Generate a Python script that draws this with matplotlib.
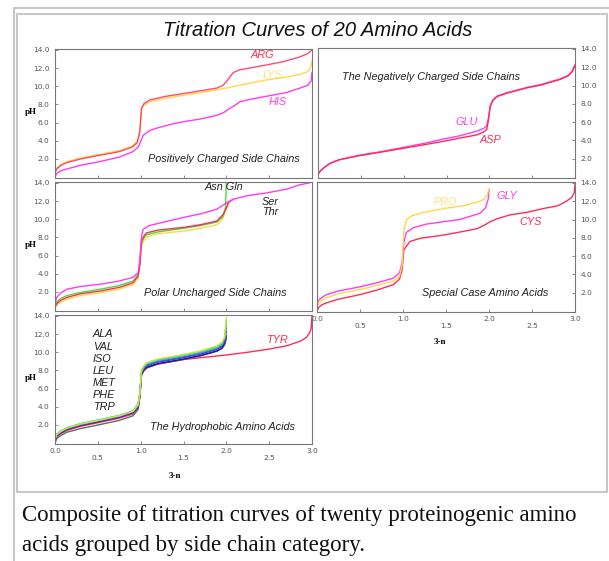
import matplotlib
matplotlib.use("Agg")
from matplotlib import pyplot as plt
from matplotlib.lines import Line2D
from matplotlib.patches import Rectangle

# --- data (x = equivalents of base "3-n", y = pH) ---

# positively charged side chains
x_arg = [0, 0.02, 0.07, 0.14, 0.3, 0.52, 0.75, 0.9, 0.96, 0.99, 1.01, 1.04, 1.11, 1.3, 1.5, 1.7, 1.89, 1.96, 2.0, 2.04, 2.08, 2.15, 2.27, 2.5, 2.66, 2.85, 2.95, 3.0]
ph_arg = [0.5, 0.9, 1.3, 1.6, 2.0, 2.4, 2.8, 3.3, 3.8, 5.0, 7.6, 8.1, 8.5, 8.9, 9.2, 9.5, 9.8, 10.1, 10.5, 11.0, 11.5, 11.8, 12.0, 12.4, 12.7, 13.2, 13.6, 14.0]
x_lys = [0, 0.02, 0.07, 0.14, 0.3, 0.52, 0.75, 0.9, 0.96, 0.99, 1.01, 1.04, 1.11, 1.3, 1.5, 1.7, 1.89, 2.0, 2.2, 2.47, 2.7, 2.86, 2.95, 2.99, 3.0]
ph_lys = [0.6, 1.0, 1.4, 1.7, 2.1, 2.5, 2.9, 3.4, 3.9, 5.0, 7.5, 7.9, 8.3, 8.7, 9.0, 9.3, 9.6, 9.8, 10.2, 10.7, 11.0, 11.3, 11.6, 12.2, 12.8]
x_his = [0, 0.02, 0.07, 0.14, 0.3, 0.52, 0.75, 0.91, 0.97, 1.0, 1.03, 1.1, 1.19, 1.35, 1.5, 1.7, 1.89, 1.97, 2.03, 2.1, 2.16, 2.3, 2.47, 2.7, 2.86, 2.95, 2.99, 3.0]
ph_his = [0.0, 0.4, 0.7, 0.9, 1.3, 1.7, 2.2, 2.8, 3.3, 3.9, 4.6, 5.1, 5.4, 5.8, 6.1, 6.4, 6.8, 7.1, 7.5, 7.9, 8.3, 8.6, 8.9, 9.3, 9.8, 10.1, 10.6, 11.5]

# negatively charged side chains
x_acid = [0, 0.03, 0.08, 0.14, 0.25, 0.49, 0.75, 1.0, 1.25, 1.46, 1.65, 1.85, 1.93, 1.97, 1.99, 2.01, 2.04, 2.09, 2.2, 2.44, 2.6, 2.82, 2.92, 2.97, 3.0]
ph_glu = [0.3, 0.7, 1.1, 1.5, 1.9, 2.4, 2.8, 3.25, 3.7, 4.15, 4.5, 5.0, 5.3, 5.6, 6.5, 7.8, 8.4, 8.85, 9.2, 9.8, 10.1, 10.7, 11.1, 11.6, 12.3]
ph_asp = [0.3, 0.7, 1.1, 1.5, 1.9, 2.35, 2.75, 3.15, 3.55, 3.9, 4.25, 4.6, 4.9, 5.2, 6.2, 7.7, 8.35, 8.8, 9.15, 9.75, 10.05, 10.65, 11.05, 11.55, 12.2]

# polar uncharged side chains
x_ser = [0, 0.02, 0.07, 0.14, 0.3, 0.53, 0.75, 0.91, 0.97, 0.99, 1.01, 1.03, 1.1, 1.23, 1.5, 1.7, 1.89, 2.0, 2.08, 2.25, 2.47, 2.7, 2.86, 2.97]
ph_ser = [0.7, 1.4, 1.9, 2.3, 2.6, 2.85, 3.2, 3.6, 4.1, 5.5, 8.15, 8.9, 9.3, 9.6, 10.2, 10.6, 11.1, 11.8, 12.2, 12.6, 12.9, 13.3, 13.8, 14.0]
x_thr = [0, 0.02, 0.07, 0.14, 0.3, 0.53, 0.75, 0.91, 0.97, 0.99, 1.01, 1.04, 1.07, 1.2, 1.5, 1.7, 1.89, 1.96, 2.0, 2.02, 2.05, 2.08]
ph_thr = [0.3, 0.7, 1.1, 1.4, 1.8, 2.1, 2.5, 3.0, 3.75, 5.0, 7.6, 8.2, 8.5, 8.8, 9.1, 9.4, 9.8, 10.5, 11.2, 11.8, 12.0, 12.2]
x_asn = [0, 0.02, 0.07, 0.14, 0.3, 0.53, 0.75, 0.91, 0.97, 0.99, 1.01, 1.04, 1.07, 1.2, 1.5, 1.7, 1.89, 1.96, 1.99, 2.0]
ph_asn = [0.5, 0.9, 1.3, 1.6, 1.95, 2.3, 2.7, 3.2, 3.9, 5.2, 7.4, 8.0, 8.3, 8.6, 9.0, 9.3, 9.7, 10.3, 11.3, 14.0]
x_gln = [0, 0.02, 0.07, 0.14, 0.3, 0.53, 0.75, 0.91, 0.97, 0.99, 1.01, 1.04, 1.08, 1.2, 1.5, 1.7, 1.89, 1.96, 2.0, 2.03]
ph_gln = [0.2, 0.5, 0.9, 1.2, 1.6, 1.9, 2.3, 2.8, 3.5, 4.8, 7.0, 7.7, 8.1, 8.4, 8.7, 9.0, 9.4, 10.1, 11.2, 11.7]

# special cases
x_pro = [0, 0.02, 0.06, 0.11, 0.25, 0.5, 0.7, 0.89, 0.96, 0.99, 1.01, 1.04, 1.1, 1.2, 1.47, 1.7, 1.86, 1.94, 1.98, 2.0]
ph_pro = [0.5, 0.9, 1.2, 1.45, 1.9, 2.35, 2.8, 3.3, 3.8, 5.0, 8.8, 10.0, 10.4, 10.7, 11.2, 11.5, 11.9, 12.2, 12.7, 13.4]
x_gly = [0, 0.02, 0.06, 0.11, 0.25, 0.5, 0.7, 0.89, 0.96, 0.99, 1.01, 1.04, 1.12, 1.27, 1.5, 1.66, 1.9, 1.96, 1.99, 2.0]
ph_gly = [0.9, 1.2, 1.5, 1.8, 2.2, 2.65, 3.1, 3.6, 4.2, 5.3, 7.5, 8.6, 9.1, 9.5, 9.8, 10.0, 10.7, 11.3, 12.2, 13.2]
x_cys = [0, 0.02, 0.06, 0.11, 0.25, 0.5, 0.7, 0.89, 0.96, 0.99, 1.01, 1.08, 1.2, 1.47, 1.7, 1.86, 1.95, 2.01, 2.1, 2.24, 2.45, 2.63, 2.8, 2.9, 2.96, 2.99, 3.0]
ph_cys = [0.0, 0.4, 0.7, 0.9, 1.3, 1.8, 2.3, 2.9, 3.5, 4.5, 6.7, 7.6, 7.95, 8.3, 8.7, 9.0, 9.4, 9.75, 10.1, 10.5, 10.8, 11.2, 11.5, 12.0, 12.4, 12.9, 13.8]

# hydrophobic
x_hyd = [0, 0.02, 0.07, 0.14, 0.3, 0.53, 0.75, 0.91, 0.97, 0.99, 1.01, 1.04, 1.07, 1.2, 1.5, 1.7, 1.89, 1.95, 1.98, 2.0]
ph_ala = [0.4, 0.95, 1.3, 1.65, 2.1, 2.55, 3.0, 3.5, 4.2, 5.4, 8.0, 8.5, 8.8, 9.2, 9.7, 10.1, 10.6, 11.0, 11.6, 13.0]
ph_val = [0.5, 1.0, 1.35, 1.7, 2.15, 2.6, 3.05, 3.55, 4.3, 5.5, 7.9, 8.4, 8.7, 9.1, 9.6, 10.0, 10.5, 10.9, 11.5, 13.5]
ph_iso = [0.3, 0.85, 1.2, 1.55, 2.0, 2.45, 2.9, 3.4, 4.1, 5.3, 7.7, 8.2, 8.5, 8.9, 9.4, 9.8, 10.3, 10.7, 11.2, 12.3]
ph_leu = [0.25, 0.8, 1.15, 1.5, 1.95, 2.4, 2.85, 3.35, 4.0, 5.2, 7.6, 8.1, 8.35, 8.75, 9.25, 9.65, 10.15, 10.5, 11.0, 11.8]
ph_met = [0.0, 0.5, 0.85, 1.2, 1.6, 2.05, 2.5, 3.0, 3.7, 5.0, 7.5, 8.0, 8.3, 8.7, 9.2, 9.6, 10.1, 10.4, 10.8, 11.5]
ph_phe = [0.45, 0.95, 1.3, 1.65, 2.1, 2.55, 3.0, 3.5, 4.2, 5.4, 8.05, 8.55, 8.85, 9.25, 9.75, 10.15, 10.7, 11.1, 11.7, 13.8]
ph_trp = [0.35, 0.9, 1.25, 1.6, 2.05, 2.5, 2.95, 3.45, 4.15, 5.35, 7.8, 8.3, 8.6, 9.0, 9.5, 9.9, 10.4, 10.8, 11.3, 12.8]
x_tyr = [0, 0.02, 0.07, 0.14, 0.3, 0.53, 0.75, 0.91, 0.97, 0.99, 1.01, 1.04, 1.08, 1.2, 1.5, 1.75, 2.0, 2.25, 2.5, 2.7, 2.86, 2.93, 2.97, 2.99, 3.0]
ph_tyr = [0.2, 0.7, 1.05, 1.4, 1.85, 2.3, 2.75, 3.2, 3.9, 5.1, 7.5, 8.0, 8.3, 8.7, 9.2, 9.45, 9.7, 10.0, 10.35, 10.7, 11.2, 11.6, 12.1, 12.6, 14.0]

hyd_names = ["ALA", "VAL", "ISO", "LEU", "MET", "PHE", "TRP"]

RED = "#ff2d55"
MAG = "#ff3cf0"
YEL = "#ffd84a"
GRN = "#3ee23e"

W, H = 609, 561
fig = plt.figure(figsize=(W / 100, H / 100), dpi=100)
fig.patch.set_facecolor("white")


def px_axes(l, t, r, b):
    return fig.add_axes([l / W, 1 - b / H, (r - l) / W, (b - t) / H])


def style(ax, right=False, xlabels=False):
    ax.set_xlim(0, 3)
    ax.set_ylim(-0.1, 14.1)
    for s in ax.spines.values():
        s.set_color("#777777")
        s.set_linewidth(0.8)
    ax.set_yticks([2, 4, 6, 8, 10, 12, 14])
    ax.set_yticklabels(["2.0", "4.0", "6.0", "8.0", "10.0", "12.0", "14.0"])
    ax.tick_params(axis="y", direction="in", length=2.5, width=0.6, color="#777777",
                   labelsize=5.3, labelcolor="#555555", pad=4,
                   left=not right, labelleft=not right, right=right, labelright=right)
    ax.set_xticks([0, 1, 2, 3])
    ax.set_xticks([0.5, 1.5, 2.5], minor=True)
    ax.tick_params(axis="x", which="both", direction="in", length=2.5, width=0.6,
                   color="#777777", labelsize=5.3, labelcolor="#555555")
    if xlabels:
        ax.set_xticklabels(["0.0", "1.0", "2.0", "3.0"])
        ax.set_xticklabels(["0.5", "1.5", "2.5"], minor=True)
        ax.tick_params(axis="x", which="major", pad=3)
        ax.tick_params(axis="x", which="minor", pad=8)
        ax.set_xlabel("3-n", family="Liberation Serif", fontweight="bold", fontsize=6.5)
    else:
        ax.set_xticklabels([])
        ax.set_xticklabels([], minor=True)
    if not right:
        ax.set_ylabel("pH", family="Liberation Serif", fontweight="bold", fontsize=6.5,
                      rotation=0)
        ax.yaxis.set_label_coords(-0.093, 0.48)


def note(ax, x, y, s, color="#222222", ha="center", size=7.8):
    ax.text(x, y, s, color=color, ha=ha, va="center", fontsize=size,
            style="italic", family="Liberation Sans")


lw = 1.0

# panel 1: positively charged
ax1 = px_axes(55, 49, 312, 178)
ax1.plot(x_his, ph_his, color=MAG, lw=lw)
ax1.plot(x_lys, ph_lys, color=YEL, lw=lw)
ax1.plot(x_arg, ph_arg, color=RED, lw=lw, alpha=0.85)
style(ax1)
note(ax1, 2.42, 13.45, "ARG", RED)
note(ax1, 2.54, 11.2, "LYS", "#ffe27a")
note(ax1, 2.6, 8.3, "HIS", MAG)
note(ax1, 1.97, 2.0, "Positively Charged Side Chains")

# panel 2: negatively charged
ax2 = px_axes(318, 48, 575, 178)
ax2.plot(x_acid, ph_glu, color=MAG, lw=lw)
ax2.plot(x_acid, ph_asp, color=RED, lw=lw)
style(ax2, right=True)
note(ax2, 1.32, 10.9, "The Negatively Charged Side Chains")
note(ax2, 1.73, 6.05, "GLU", MAG)
note(ax2, 2.01, 4.1, "ASP", RED)

# panel 3: polar uncharged
ax3 = px_axes(55, 182, 312, 311)
ax3.plot(x_gln, ph_gln, color=YEL, lw=lw)
ax3.plot(x_asn, ph_asn, color=GRN, lw=lw)
ax3.plot(x_thr, ph_thr, color=RED, lw=lw)
ax3.plot(x_ser, ph_ser, color=MAG, lw=lw)
style(ax3)
note(ax3, 1.97, 13.6, "Asn Gln")
note(ax3, 2.51, 11.95, "Ser")
note(ax3, 2.51, 10.75, "Thr")
note(ax3, 1.87, 1.85, "Polar Uncharged Side Chains")

# panel 4: special cases
ax4 = px_axes(317, 182, 575, 312)
ax4.plot(x_cys, ph_cys, color=RED, lw=lw)
ax4.plot(x_gly, ph_gly, color=MAG, lw=lw)
ax4.plot(x_pro, ph_pro, color=YEL, lw=lw)
style(ax4, right=True, xlabels=True)
ax4.xaxis.set_label_coords(0.477, -0.2)
note(ax4, 1.49, 11.9, "PRO", "#ffe27a")
note(ax4, 2.21, 12.57, "GLY", MAG)
note(ax4, 2.48, 9.7, "CYS", RED)
note(ax4, 1.95, 2.0, "Special Case Amino Acids")

# panel 5: hydrophobic
ax5 = px_axes(55, 315, 312, 444)
ax5.plot(x_tyr, ph_tyr, color=RED, lw=lw)
hyd = [(ph_met, "#666666"), (ph_leu, "#1a1a90"), (ph_iso, "#2a44ff"),
       (ph_trp, "#9a30d0"), (ph_val, "#00d8e8"), (ph_ala, GRN), (ph_phe, "#d8e040")]
for ph, c in hyd:
    ax5.plot(x_hyd, ph, color=c, lw=lw)
style(ax5, xlabels=True)
ax5.xaxis.set_label_coords(0.467, -0.217)
note(ax5, 2.59, 11.36, "TYR", RED)
name_y = [11.98, 10.63, 9.29, 7.99, 6.65, 5.3, 3.99]
for nm, yy in zip(hyd_names, name_y):
    note(ax5, 0.44, yy, nm, ha="left")
note(ax5, 1.96, 1.8, "The Hydrophobic Amino Acids")

# title and caption
fig.text(318 / W, 1 - 30 / H, "Titration Curves of 20 Amino Acids", ha="center", va="center",
         fontsize=14.5, style="italic", family="Liberation Sans", color="#111111")
fig.text(22 / W, 1 - 516 / H, "Composite of titration curves of twenty proteinogenic amino",
         ha="left", va="center", fontsize=16.5, family="Liberation Serif", color="#111111")
fig.text(22 / W, 1 - 546 / H, "acids grouped by side chain category.",
         ha="left", va="center", fontsize=16.5, family="Liberation Serif", color="#111111")

# frame lines (thumbnail border)
frame = "#c8c8c8"
fig.add_artist(Line2D([14 / W, 14 / W], [0, 1 - 8 / H], color=frame, lw=1.5))
fig.add_artist(Line2D([14 / W, 1], [1 - 8 / H, 1 - 8 / H], color=frame, lw=1.5))
fig.add_artist(Rectangle((17 / W, 1 - 492 / H), (607 - 17) / W, (492 - 14) / H,
                         fill=False, edgecolor=frame, lw=1.5))

plt.savefig("out.png", dpi=100)
